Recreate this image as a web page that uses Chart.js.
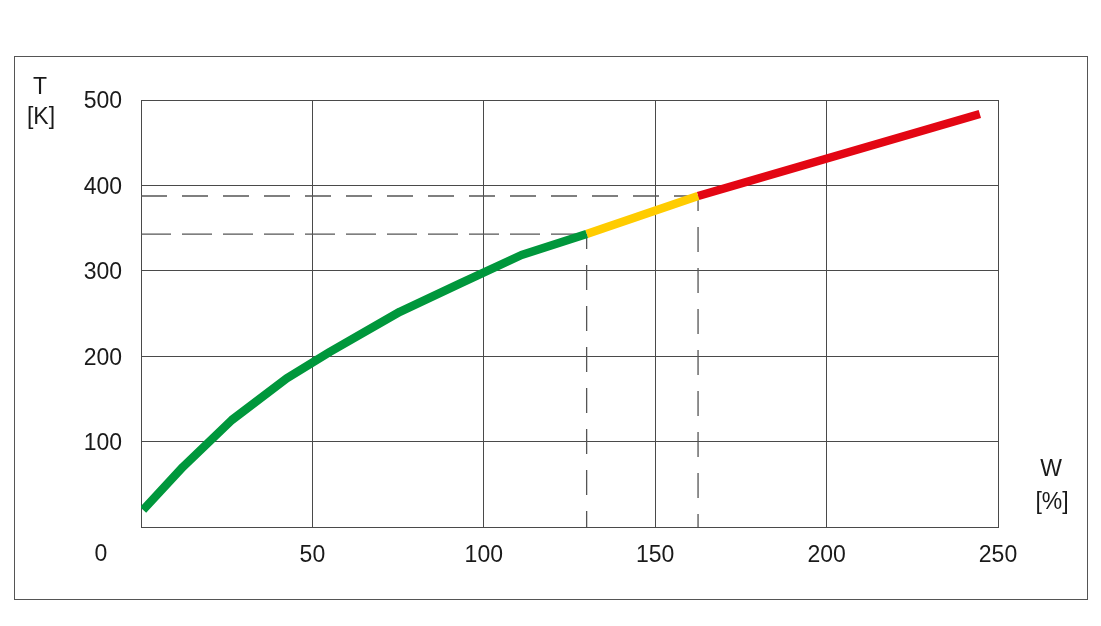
<!DOCTYPE html>
<html>
<head>
<meta charset="utf-8">
<script src="https://cdn.jsdelivr.net/npm/chart.js@4"></script>
<style>
html,body{margin:0;padding:0;background:#fff;}
#wrap{width:1101px;height:626px;position:relative;}
canvas{display:block;}
</style>
</head>
<body>
<div id="wrap"><canvas id="c" width="1101" height="626"></canvas></div>
<script>
// ---- data ----
const greenW = [0.6, 12.3, 26.5, 42.5, 55.1, 75.5, 93, 111, 130];
const greenT = [20, 70.6, 125.3, 174, 205, 252, 285, 318.5, 343];
const yellowW = [130, 162.5];
const yellowT = [343, 387.6];
const redW = [162.5, 244.7];
const redT = [387.6, 483.6];
const guideW = [130, 162.5];
const guideT = [343, 387.6];
const xTicks = [0, 50, 100, 150, 200, 250];
const yTicks = [0, 100, 200, 300, 400, 500];
const yTitle = ['T', '[K]'];
const xTitle = ['W', '[%]'];
const originLabel = '0';

const pts = (xs, ys) => xs.map((x, i) => ({x: x, y: ys[i]}));
const FONT = '"Liberation Sans", Arial, Helvetica, sans-serif';
const GRID = '#4a4a4a';
const DASH = '#555';
const TXT = '#1a1a1a';

const guides = [];
guideW.forEach((w, i) => {
  guides.push({data: [{x: 0, y: guideT[i]}, {x: w, y: guideT[i]}], borderColor: DASH, borderWidth: 1.3,
    borderDash: i === 0 ? [30, 11] : [26, 15], showLine: true, pointRadius: 0, order: 5});
  guides.push({data: [{x: w, y: guideT[i]}, {x: w, y: 0}], borderColor: DASH, borderWidth: 1.3,
    borderDash: [25, 16], borderDashOffset: 10, showLine: true, pointRadius: 0, order: 5});
});

const curveStyle = {showLine: true, pointRadius: 0, borderWidth: 8.5, borderCapStyle: 'butt', borderJoinStyle: 'round', tension: 0, order: 1};

const frame = {
  id: 'frame',
  afterDraw(chart) {
    const ctx = chart.ctx;
    ctx.save();
    ctx.strokeStyle = '#555';
    ctx.lineWidth = 1;
    ctx.strokeRect(14.5, 56.5, 1073, 543);
    ctx.fillStyle = TXT;
    ctx.font = '23px ' + FONT;
    ctx.textAlign = 'center';
    ctx.textBaseline = 'middle';
    ctx.fillText(yTitle[0], 40, 88);
    ctx.fillText(yTitle[1], 41, 118);
    ctx.fillText(xTitle[0], 1051, 470);
    ctx.fillText(xTitle[1], 1052, 503);
    const xs = chart.scales.x;
    ctx.fillText(originLabel, xs.getPixelForValue(0) - 40, 555);
    ctx.restore();
  }
};

new Chart(document.getElementById('c'), {
  type: 'scatter',
  data: {
    datasets: [
      Object.assign({data: pts(greenW, greenT), borderColor: '#00973c', backgroundColor: '#00973c'}, curveStyle),
      Object.assign({data: pts(yellowW, yellowT), borderColor: '#ffcc00', backgroundColor: '#ffcc00'}, curveStyle),
      Object.assign({data: pts(redW, redT), borderColor: '#e30613', backgroundColor: '#e30613'}, curveStyle),
      ...guides
    ]
  },
  options: {
    responsive: false,
    animation: false,
    devicePixelRatio: 1,
    layout: {padding: {left: 0, right: 103, top: 100, bottom: 0}},
    plugins: {legend: {display: false}, tooltip: {enabled: false}},
    scales: {
      x: {
        type: 'linear', min: 0, max: 250,
        afterFit(s) { s.height = 99; },
        afterBuildTicks(s) { s.ticks = xTicks.map(v => ({value: v})); },
        grid: {color: GRID, lineWidth: 1, drawTicks: false},
        border: {color: GRID, width: 1},
        ticks: {padding: 15, color: TXT, font: {family: FONT, size: 23},
          callback: v => v === 0 ? '' : String(v), maxRotation: 0}
      },
      y: {
        type: 'linear', min: 0, max: 500,
        afterFit(s) { s.width = 141; },
        afterBuildTicks(s) { s.ticks = yTicks.map(v => ({value: v})); },
        grid: {color: GRID, lineWidth: 1, drawTicks: false},
        border: {color: GRID, width: 1},
        ticks: {padding: 19, labelOffset: 2, color: TXT, font: {family: FONT, size: 23},
          callback: v => v === 0 ? '' : String(v)}
      }
    }
  },
  plugins: [frame]
});
</script>
</body>
</html>
